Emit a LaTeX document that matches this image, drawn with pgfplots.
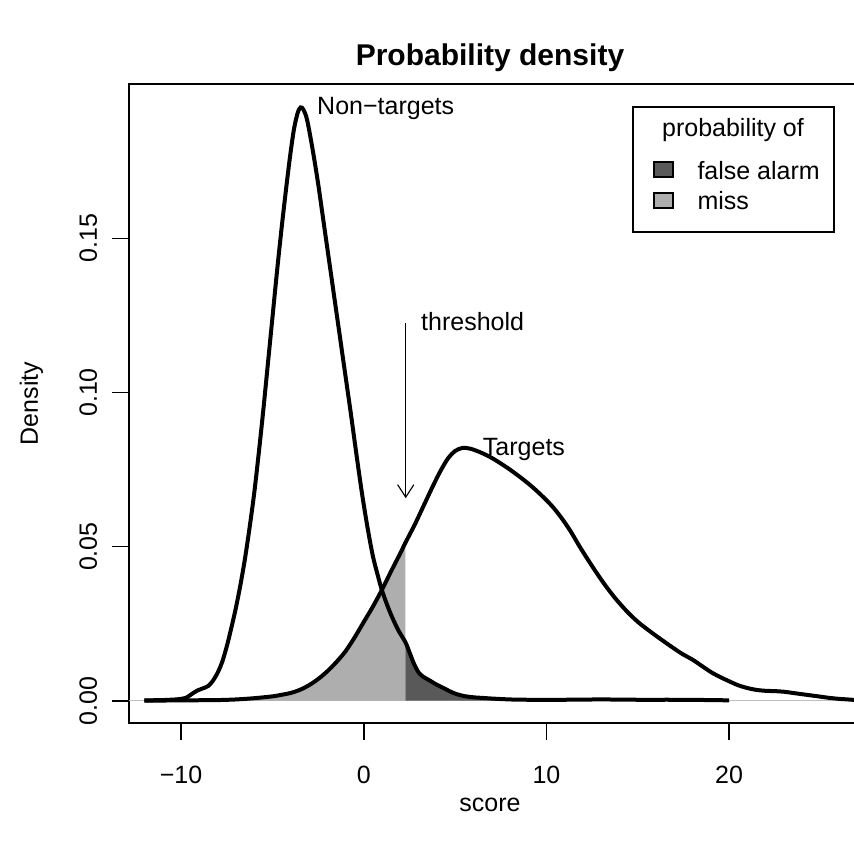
\documentclass[border=0pt]{standalone}
\usepackage{fontspec}
\setmainfont{Liberation Sans}
\usepackage{pgfplots}
\pgfplotsset{compat=1.18}
\usepackage{pgfplotstable}
\usetikzlibrary{arrows.meta}

\definecolor{fagray}{HTML}{595959}
\definecolor{missgray}{HTML}{AEAEAE}
\definecolor{zerogray}{HTML}{BEBEBE}

% density of non-target scores
\pgfplotstableread{
x y
-12.00 0.0001
-11.00 0.0002
-10.30 0.0004
-10.00 0.0006
-9.70 0.0010
-9.40 0.0022
-9.10 0.0033
-8.80 0.0040
-8.50 0.0048
-8.25 0.0065
-8.00 0.0090
-7.75 0.0125
-7.50 0.0175
-7.25 0.0235
-7.00 0.0300
-6.75 0.0375
-6.50 0.0460
-6.25 0.0560
-6.00 0.0670
-5.75 0.0800
-5.50 0.0940
-5.25 0.1090
-5.00 0.1240
-4.75 0.1390
-4.50 0.1530
-4.25 0.1660
-4.00 0.1780
-3.80 0.1860
-3.60 0.1910
-3.45 0.1925
-3.30 0.1918
-3.10 0.1885
-2.80 0.1790
-2.50 0.1680
-2.20 0.1555
-1.90 0.1430
-1.60 0.1305
-1.30 0.1180
-1.00 0.1055
-0.70 0.0930
-0.40 0.0800
-0.10 0.0675
0.20 0.0565
0.50 0.0470
0.80 0.0400
1.00 0.0358
1.30 0.0308
1.60 0.0265
1.90 0.0228
2.28 0.0190
2.50 0.0158
2.75 0.0120
3.00 0.0092
3.25 0.0078
3.60 0.0066
3.90 0.0055
4.20 0.0046
4.50 0.0037
4.80 0.0028
5.10 0.0021
5.50 0.0015
6.00 0.0011
6.50 0.0009
7.00 0.0007
8.00 0.0004
9.00 0.0003
11.00 0.0003
13.00 0.0004
15.00 0.0003
17.00 0.0003
19.00 0.0002
20.00 0.0001
}\nontargets

% density of target scores
\pgfplotstableread{
x y
-12.00 0.0000
-10.00 0.0001
-8.00 0.0002
-7.00 0.0004
-6.00 0.0008
-5.00 0.0014
-4.50 0.0019
-4.00 0.0025
-3.50 0.0035
-3.00 0.0050
-2.50 0.0070
-2.00 0.0095
-1.50 0.0125
-1.00 0.0160
-0.50 0.0205
0.00 0.0255
0.50 0.0305
1.00 0.0360
1.50 0.0420
2.00 0.0478
2.28 0.0512
2.80 0.0572
3.30 0.0635
3.80 0.0698
4.20 0.0745
4.60 0.0785
5.00 0.0810
5.40 0.0820
5.80 0.0818
6.30 0.0808
7.00 0.0788
8.00 0.0750
9.00 0.0705
9.70 0.0668
10.30 0.0632
10.80 0.0595
11.30 0.0552
11.80 0.0502
12.30 0.0455
12.80 0.0410
13.30 0.0368
13.80 0.0330
14.40 0.0290
15.00 0.0256
15.60 0.0228
16.20 0.0202
16.80 0.0177
17.40 0.0153
18.00 0.0133
18.50 0.0113
19.00 0.0093
19.50 0.0077
20.00 0.0063
20.50 0.0050
21.00 0.0041
21.50 0.0035
22.00 0.0032
22.50 0.0031
23.00 0.0029
23.50 0.0025
24.00 0.0021
24.50 0.0017
25.00 0.0013
25.50 0.0009
26.00 0.0006
26.50 0.0004
27.00 0.0002
27.50 0.0001
}\targets

\begin{document}
\begin{tikzpicture}[font=\fontsize{10}{12}\selectfont]
\begin{axis}[
    at={(0,0)}, anchor=south west,
    scale only axis, width=291.6pt, height=255.6pt,
    xmin=-12.846, xmax=27.055, ymin=-0.00724, ymax=0.2001,
    axis line style={line width=0.67pt},
    tick align=outside, major tick length=6.8pt,
    tick style={line width=0.67pt, black},
    tick pos=left,
    xtick={-10,0,10,20}, xticklabels={−10,0,10,20},
    ytick={0,0.05,0.1,0.15}, yticklabels={0.00,0.05,0.10,0.15},
    scaled y ticks=false,
    xticklabel style={anchor=base, yshift=-17.2pt},
    yticklabel style={xshift=-6pt, rotate=90, anchor=base},
    title={Probability density},
    title style={font=\fontsize{12}{14}\bfseries, anchor=base,
        at={([yshift=1.2pt]axis description cs:0.4952,1)}},
    xlabel={score},
    xlabel style={anchor=base, at={([yshift=-35.2pt]axis description cs:0.4952,0)}},
    ylabel={Density},
    ylabel style={anchor=base, rotate=0, at={([xshift=-36.4pt]axis description cs:0,0.5)}},
]
\addplot[zerogray, line width=0.4pt] coordinates {(-12.846,0) (27.055,0)};

% shaded error regions
\addplot[fill=missgray, draw=none, smooth, restrict x to domain=-12:2.281]
    table {\targets} \closedcycle;
\addplot[fill=fagray, draw=none, smooth, restrict x to domain=2.279:20]
    table {\nontargets} \closedcycle;

% density curves
\addplot[black, line width=1.6pt, smooth] table {\nontargets};
\addplot[black, line width=1.6pt, smooth] table {\targets};

\draw[line width=0.45pt, -{Straight Barb[length=5pt,width=6.5pt]}]
    (axis cs:2.30,0.1226) -- (axis cs:2.30,0.0657);
\node[anchor=base west, inner sep=0] at (axis cs:3.12,0.1200) {threshold};
\node[anchor=base west, inner sep=0] at (axis cs:-2.57,0.1903) {Non−targets};
\node[anchor=base west, inner sep=0] at (axis cs:6.50,0.0797) {Targets};
\end{axis}

% legend
\draw[line width=0.67pt] (201.5pt,196.5pt) rectangle (281.9pt,246.3pt);
\node[anchor=base, inner sep=0] at (241.6pt,234.4pt) {probability of};
\filldraw[fill=fagray, draw=black, line width=0.5pt] (210pt,218.4pt) rectangle (217.6pt,224.4pt);
\node[anchor=base west, inner sep=0] at (227.2pt,217.2pt) {false alarm};
\filldraw[fill=missgray, draw=black, line width=0.5pt] (210pt,206pt) rectangle (217.6pt,212pt);
\node[anchor=base west, inner sep=0] at (227.2pt,205.2pt) {miss};

\pgfresetboundingbox
\path[use as bounding box] (-51.6pt,-49.6pt) rectangle (290pt,289.2pt);
\end{tikzpicture}
\end{document}
